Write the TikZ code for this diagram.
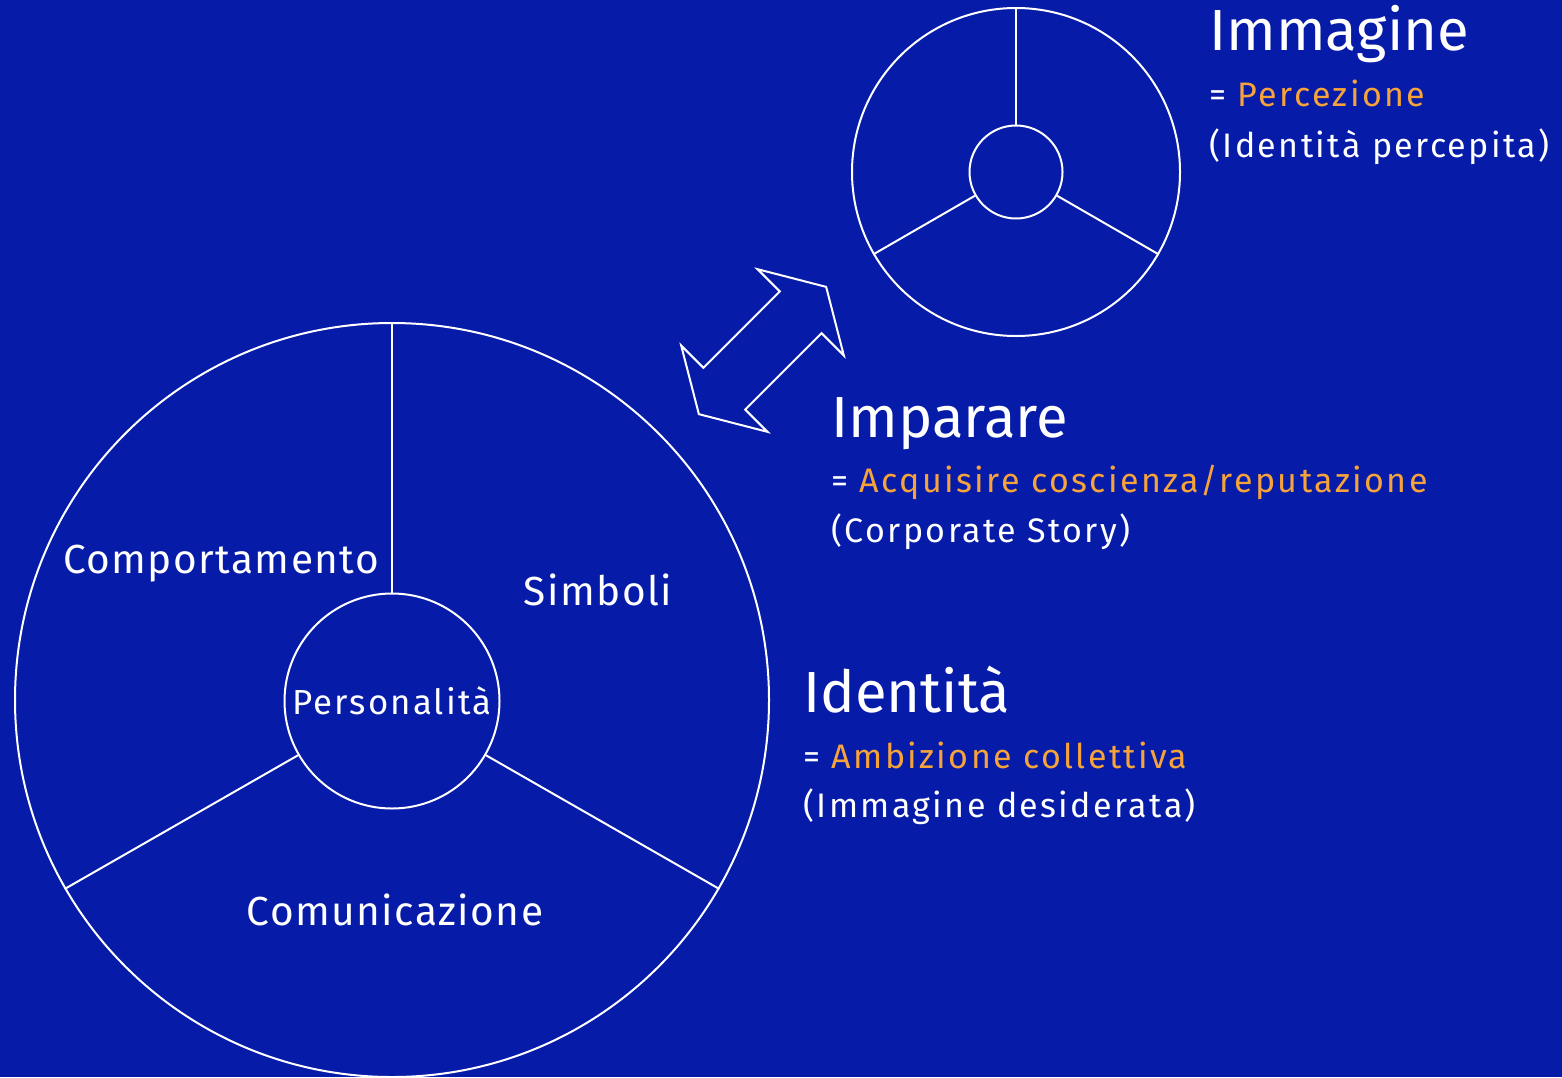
\documentclass[tikz,border=0pt]{standalone}
\usepackage{fontspec}
\setmainfont{Fira Sans}
\newfontfamily\partfont[LetterSpace=3.5]{Fira Sans}
\newfontfamily\corefont[LetterSpace=6]{Fira Sans}
\newfontfamily\notefont[LetterSpace=7]{Fira Sans}
\usetikzlibrary{positioning}
\definecolor{bgblue}{HTML}{061BA8}
\definecolor{accent}{HTML}{F7A33C}

\begin{document}
\begin{tikzpicture}[
  x=0.5pt, y=-0.5pt,
  ring/.style={draw=white, line width=1pt, circle, inner sep=0pt, text=white},
  spoke/.style={draw=white, line width=1pt},
  part/.style={text=white, font=\partfont\fontsize{20.3pt}{24pt}\selectfont, anchor=base, inner sep=0pt},
  title/.style={text=white, font=\fontsize{29pt}{34pt}\selectfont, anchor=base west, inner sep=0pt},
  eq/.style={text=white, font=\notefont\fontsize{17pt}{20pt}\selectfont, anchor=base west, inner sep=0pt},
  swap/.style={draw=white, line width=1pt, line join=miter}
]

% --- background ---
\fill[bgblue] (0,0) rectangle (1562,1077);
\useasboundingbox (0,0) rectangle (1562,1077);

% --- Identity wheel ---
\node[ring, minimum size=377pt] (outer) at (392,700) {};
\node[ring, minimum size=107.5pt, font=\corefont\fontsize{17.4pt}{20pt}\selectfont] (core) at (392,701) {Personalità};
\draw[spoke] (core.90) -- (outer.90);
\draw[spoke] (core.210) -- (outer.210);
\draw[spoke] (core.330) -- (outer.330);

\node[part] (behave) at (221,573) {Comportamento};
\node[part] (symbols) at (598,605) {Simboli};
\node[part] (comm) at (395,925) {Comunicazione};

% --- Image wheel ---
\node[ring, minimum size=164pt] (imgOuter) at (1016,172) {};
\node[ring, minimum size=46.5pt] (imgCore) at (1016,172) {};
\draw[spoke] (imgCore.90) -- (imgOuter.90);
\draw[spoke] (imgCore.210) -- (imgOuter.210);
\draw[spoke] (imgCore.330) -- (imgOuter.330);

% --- two-way arrow ---
\begin{scope}[shift={(762.5,350.5)}, rotate=45]
  \draw[swap] (90,0) -- (54,61) -- (54,29.5) -- (-54,29.5) -- (-54,61)
    -- (-90,0) -- (-54,-61) -- (-54,-29.5) -- (54,-29.5) -- (54,-61) -- cycle;
\end{scope}

% --- Immagine ---
\node[title] (imgTitle) at (1209,50) {Immagine};
\node[eq] (imgEq) at ([yshift=-28pt]imgTitle.base west) {= \textcolor{accent}{Percezione}};
\node[eq] (imgNote) at ([yshift=-25.5pt]imgEq.base west) {(Identità percepita)};

% --- Imparare ---
\node[title] (learnTitle) at (831,437) {Imparare};
\node[eq] (learnEq) at ([yshift=-27.5pt]learnTitle.base west) {= \textcolor{accent}{Acquisire coscienza/reputazione}};
\node[eq] (learnNote) at ([yshift=-25pt]learnEq.base west) {(Corporate Story)};

% --- Identità ---
\node[title] (idTitle) at (803,712) {Identità};
\node[eq] (idEq) at ([yshift=-28pt]idTitle.base west) {= \textcolor{accent}{Ambizione collettiva}};
\node[eq] (idNote) at ([yshift=-24.5pt]idEq.base west) {(Immagine desiderata)};

\end{tikzpicture}
\end{document}
